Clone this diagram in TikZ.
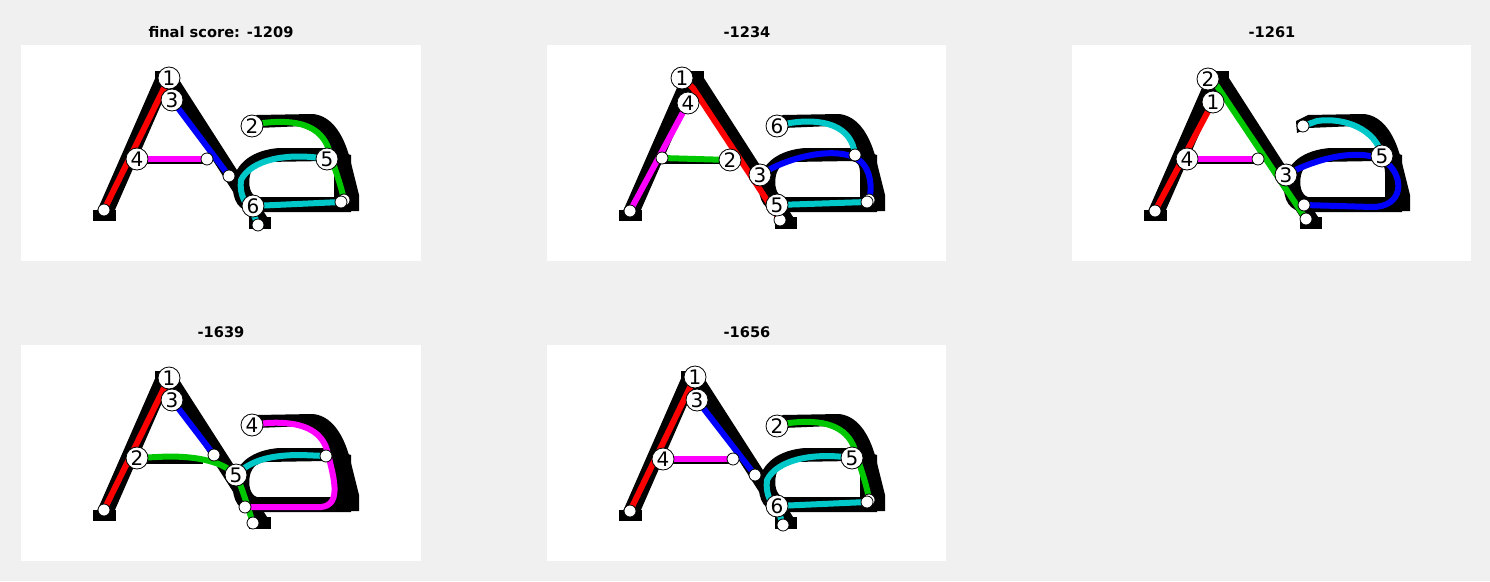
\documentclass[tikz,border=0pt]{standalone}
\usepackage{fontspec}
\setmainfont{DejaVu Sans}
\definecolor{bg}{RGB}{240,240,240}
\definecolor{cR}{RGB}{255,0,0}
\definecolor{cG}{RGB}{0,200,0}
\definecolor{cB}{RGB}{0,0,255}
\definecolor{cM}{RGB}{255,0,255}
\definecolor{cC}{RGB}{0,200,200}
\tikzset{
  stroke/.style={line width=6pt, line cap=round, line join=round},
  startnode/.style={circle, draw=black, line width=0.8pt, fill=white, minimum size=22pt, inner sep=0pt, font=\fontsize{20}{20}\selectfont},
  enddot/.style={circle, draw=black, line width=0.8pt, fill=white, minimum size=12pt, inner sep=0pt},
  title/.style={font=\fontsize{14.6}{16}\selectfont\bfseries, inner sep=0pt}
}
\newcommand{\drawglyph}{%
 \draw[line width=16pt] (83,170) -- (143,33);
 \draw[line width=15pt] (148,33) -- (241,178);
 \fill (134,26) rectangle (157,40);
 \fill (72,165) rectangle (95,176);
 \fill (228,172) rectangle (250,184);
 \fill (110,113) rectangle (182,119);
 \fill (224,76) -- (236,70) -- (292,69) .. controls (312,71) and (324,92) .. (330,118) -- (338,150) -- (338,166) -- (316,166) -- (314,130) .. controls (309,100) and (300,82) .. (284,81) -- (236,83) -- (225,88) -- cycle;
 \fill[even odd rule] (306,103) -- (258,103) .. controls (232,105) and (214,118) .. (212,138) .. controls (211,156) and (218,166) .. (232,167) -- (330,167) -- (330,110) -- cycle
   (245,117) -- (305,116) .. controls (311,117) and (313,121) .. (313,127) -- (313,152) -- (236,152) .. controls (229,150) and (227,140) .. (229,130) .. controls (231,122) and (237,117) .. (245,117) -- cycle;
}
\begin{document}
\begin{tikzpicture}[x=1pt,y=-1pt]
\fill[bg] (0,0) rectangle (1490,581);
\useasboundingbox (0,0) rectangle (1490,581);

\node[title] (t1) at (221,32) {final score: -1209};
\node[title] (t2) at (747,32) {-1234};
\node[title] (t3) at (1272,32) {-1261};
\node[title] (t4) at (221,332) {-1639};
\node[title] (t5) at (747,332) {-1656};

% ---------- panel 1
\begin{scope}[shift={(21,45)}]
 \fill[white] (0,0) rectangle (400,216);
 \drawglyph
 \coordinate (Pa1) at (148,33); \coordinate (Pa2) at (231,81); \coordinate (Pa3) at (151,55);
 \coordinate (Pa4) at (116,114); \coordinate (Pa5) at (306,114); \coordinate (Pa6) at (232,161);
 \coordinate (Pb1) at (83,165); \coordinate (Pb2) at (323,155); \coordinate (Pb3) at (208,131);
 \coordinate (Pb4) at (186,114); \coordinate (Pb5) at (237,180); \coordinate (Pb6) at (320,157);
 \draw[stroke,cR] (Pa1) -- (Pb1);
 \draw[stroke,cG] (Pa2) -- (242,78) .. controls (275,74) and (300,80) .. (308,105) .. controls (314,125) and (320,140) .. (Pb2);
 \draw[stroke,cB] (Pa3) -- (Pb3);
 \draw[stroke,cM] (Pa4) -- (Pb4);
 \draw[stroke,cC] (Pa5) .. controls (265,107) and (230,115) .. (220,135) .. controls (218,150) and (225,160) .. (232,168) -- (Pb5);
 \draw[stroke,cC] (Pa6) -- (Pb6);
 \foreach \i in {1,...,6} {\node[enddot] (Pd\i) at (Pb\i) {};}
 \foreach \i in {1,...,6} {\node[startnode] (Ps\i) at (Pa\i) {\i};}
\end{scope}

% ---------- panel 2
\begin{scope}[shift={(547,45)}]
 \fill[white] (0,0) rectangle (399,216);
 \drawglyph
 \coordinate (Qa1) at (135,33); \coordinate (Qa2) at (183,115); \coordinate (Qa3) at (213,130);
 \coordinate (Qa4) at (141,58); \coordinate (Qa5) at (230,160); \coordinate (Qa6) at (230,81);
 \coordinate (Qb1) at (233,175); \coordinate (Qb2) at (115,113); \coordinate (Qb3) at (322,155);
 \coordinate (Qb4) at (83,166); \coordinate (Qb5) at (320,157); \coordinate (Qb6) at (308,110);
 \draw[stroke,cR] (Qa1) -- (146,43) -- (Qb1);
 \draw[stroke,cG] (Qa2) -- (Qb2);
 \draw[stroke,cB] (Qa3) .. controls (240,112) and (290,100) .. (312,115) .. controls (325,125) and (325,145) .. (Qb3);
 \draw[stroke,cM] (Qa4) -- (Qb4);
 \draw[stroke,cC] (Qa5) -- (Qb5);
 \draw[stroke,cC] (Qa6) -- (243,78) .. controls (275,73) and (305,80) .. (Qb6);
 \foreach \i in {1,...,6} {\node[enddot] (Qd\i) at (Qb\i) {};}
 \foreach \i in {1,...,6} {\node[startnode] (Qs\i) at (Qa\i) {\i};}
\end{scope}

% ---------- panel 3
\begin{scope}[shift={(1072,45)}]
 \fill[white] (0,0) rectangle (399,216);
 \drawglyph
 \coordinate (Ra1) at (141,57); \coordinate (Ra2) at (136,34); \coordinate (Ra3) at (214,130);
 \coordinate (Ra4) at (115,114); \coordinate (Ra5) at (310,111);
 \coordinate (Rb1) at (83,166); \coordinate (Rb2) at (234,174); \coordinate (Rb3) at (232,160);
 \coordinate (Rb4) at (186,114); \coordinate (Rb5) at (231,81);
 \draw[stroke,cR] (Ra1) -- (Rb1);
 \draw[stroke,cG] (Ra2) -- (145,41) -- (Rb2);
 \draw[stroke,cB] (Ra3) .. controls (240,115) and (290,100) .. (315,118) .. controls (332,132) and (332,162) .. (300,162) -- (Rb3);
 \draw[stroke,cM] (Ra4) -- (Rb4);
 \draw[stroke,cC] (Ra5) .. controls (304,84) and (272,72) .. (245,76) -- (Rb5);
 \foreach \i in {1,...,5} {\node[enddot] (Rd\i) at (Rb\i) {};}
 \foreach \i in {1,...,5} {\node[startnode] (Rs\i) at (Ra\i) {\i};}
\end{scope}

% ---------- panel 4
\begin{scope}[shift={(21,345)}]
 \fill[white] (0,0) rectangle (400,216);
 \drawglyph
 \coordinate (Sa1) at (148,33); \coordinate (Sa2) at (116,113); \coordinate (Sa3) at (151,55);
 \coordinate (Sa4) at (231,80); \coordinate (Sa5) at (215,130);
 \coordinate (Sb1) at (83,165); \coordinate (Sb2) at (232,178); \coordinate (Sb3) at (193,110);
 \coordinate (Sb4) at (224,162); \coordinate (Sb5) at (305,111);
 \draw[stroke,cR] (Sa1) -- (Sb1);
 \draw[stroke,cG] (Sa2) -- (136,112) .. controls (170,110) and (200,115) .. (Sa5) .. controls (222,145) and (226,160) .. (Sb2);
 \draw[stroke,cB] (Sa3) -- (Sb3);
 \draw[stroke,cM] (Sa4) -- (246,78) .. controls (280,76) and (300,85) .. (306,105) .. controls (312,130) and (322,160) .. (300,162) -- (Sb4);
 \draw[stroke,cC] (Sa5) .. controls (230,115) and (250,110) .. (280,110) -- (Sb5);
 \foreach \i in {1,...,5} {\node[enddot] (Sd\i) at (Sb\i) {};}
 \foreach \i in {1,...,5} {\node[startnode] (Ss\i) at (Sa\i) {\i};}
\end{scope}

% ---------- panel 5
\begin{scope}[shift={(547,345)}]
 \fill[white] (0,0) rectangle (399,216);
 \drawglyph
 \coordinate (Ta1) at (148,32); \coordinate (Ta2) at (230,81); \coordinate (Ta3) at (150,55);
 \coordinate (Ta4) at (116,114); \coordinate (Ta5) at (305,113); \coordinate (Ta6) at (230,161);
 \coordinate (Tb1) at (83,166); \coordinate (Tb2) at (322,155); \coordinate (Tb3) at (208,130);
 \coordinate (Tb4) at (186,114); \coordinate (Tb5) at (236,180); \coordinate (Tb6) at (320,157);
 \draw[stroke,cR] (Ta1) -- (Tb1);
 \draw[stroke,cG] (Ta2) -- (242,78) .. controls (275,74) and (300,80) .. (308,105) .. controls (314,125) and (320,140) .. (Tb2);
 \draw[stroke,cB] (Ta3) -- (Tb3);
 \draw[stroke,cM] (Ta4) -- (Tb4);
 \draw[stroke,cC] (Ta5) .. controls (265,107) and (230,115) .. (220,135) .. controls (218,150) and (225,160) .. (232,168) -- (Tb5);
 \draw[stroke,cC] (Ta6) -- (Tb6);
 \foreach \i in {1,...,6} {\node[enddot] (Td\i) at (Tb\i) {};}
 \foreach \i in {1,...,6} {\node[startnode] (Ts\i) at (Ta\i) {\i};}
\end{scope}
\end{tikzpicture}
\end{document}
